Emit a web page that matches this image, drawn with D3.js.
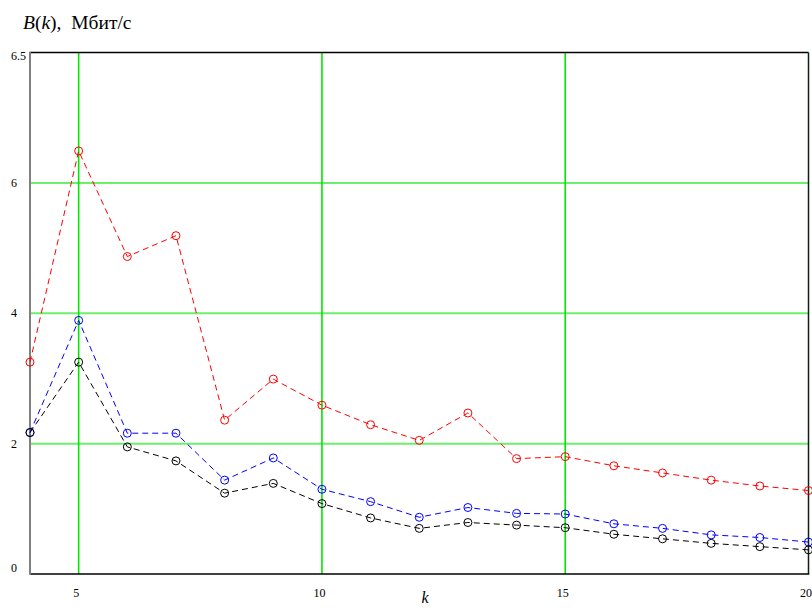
<!DOCTYPE html>
<html>
<head>
<meta charset="utf-8">
<script src="https://cdn.jsdelivr.net/npm/d3@7"></script>
<style>
  html, body { margin: 0; padding: 0; background: #fff; }
  svg { display: block; }
</style>
</head>
<body>
<svg id="chart" width="812" height="608"></svg>
<script>
// ---- data ----
const kValues = [4,5,6,7,8,9,10,11,12,13,14,15,16,17,18,19,20];
const seriesRed   = [3.25,6.49,4.87,5.19,2.36,2.99,2.59,2.29,2.05,2.47,1.77,1.80,1.66,1.55,1.44,1.35,1.28];
const seriesBlue  = [2.17,3.89,2.16,2.16,1.44,1.78,1.30,1.11,0.87,1.02,0.93,0.92,0.77,0.70,0.60,0.56,0.49];
const seriesBlack = [2.17,3.25,1.95,1.735,1.24,1.39,1.08,0.86,0.70,0.79,0.75,0.71,0.61,0.54,0.47,0.42,0.37];
const xTickValues = [5,10,15,20];
const yGridValues = [2,4,6];
const yTickLabels = [{v:0, t:"0"},{v:2, t:"2"},{v:4, t:"4"},{v:6, t:"6"},{v:8, t:"6.5"}];
const xDomain = [4,20];
const yDomain = [0,8];

const FONT = "'Liberation Serif', 'DejaVu Serif', 'Times New Roman', serif";

const svg = d3.select("#chart").attr("font-family", FONT);
const L = 30, R = 808.5, T = 52.5, B = 574;
const x = d3.scaleLinear().domain(xDomain).range([L, R]);
const y = d3.scaleLinear().domain(yDomain).range([B, T]);

// horizontal grid
svg.append("g").selectAll("line").data(yGridValues).join("line")
  .attr("x1", L).attr("x2", R)
  .attr("y1", d => y(d)).attr("y2", d => y(d))
  .attr("stroke", "#6cf06c").attr("stroke-width", 2);
// vertical grid
svg.append("g").selectAll("line").data(xTickValues.filter(d => d < xDomain[1])).join("line")
  .attr("x1", d => x(d)).attr("x2", d => x(d))
  .attr("y1", T).attr("y2", B)
  .attr("stroke", "#00e600").attr("stroke-width", 1.6);

// frame
svg.append("line").attr("x1", L).attr("x2", R).attr("y1", T).attr("y2", T)
  .attr("stroke", "#000").attr("stroke-width", 1.5);
svg.append("line").attr("x1", R).attr("x2", R).attr("y1", T).attr("y2", B)
  .attr("stroke", "#102010").attr("stroke-width", 1.5);
svg.append("line").attr("x1", L).attr("x2", R + 0.75).attr("y1", B).attr("y2", B)
  .attr("stroke", "#000").attr("stroke-width", 1.5);
svg.append("line").attr("x1", L).attr("x2", L).attr("y1", T - 0.75).attr("y2", B + 0.75)
  .attr("stroke", "#808080").attr("stroke-width", 2);

// series
const series = [
  {vals: seriesRed, color: "#ff0000"},
  {vals: seriesBlue, color: "#0000ff"},
  {vals: seriesBlack, color: "#000000"}
];
const line = d3.line().x(d => x(d[0])).y(d => y(d[1]));
series.forEach(s => {
  const pts = kValues.map((k, i) => [k, s.vals[i]]);
  svg.append("path").datum(pts)
    .attr("d", line).attr("fill", "none")
    .attr("stroke", s.color).attr("stroke-width", 1)
    .attr("stroke-dasharray", "6,4");
  svg.append("g").selectAll("circle").data(pts).join("circle")
    .attr("cx", d => x(d[0])).attr("cy", d => y(d[1])).attr("r", 4)
    .attr("fill", "none").attr("stroke", s.color).attr("stroke-width", 1);
});

// y tick labels
svg.append("g").selectAll("text").data(yTickLabels).join("text")
  .attr("x", 11)
  .attr("y", d => d.v === 0 ? y(d.v) - 2 : (d.v === 8 ? y(d.v) + 7 : y(d.v) + 4))
  .attr("font-family", FONT)
  .attr("font-size", 12).attr("fill", "#000")
  .text(d => d.t);

// x tick labels
svg.append("g").selectAll("text").data(xTickValues).join("text")
  .attr("x", d => x(d) - 2.5).attr("y", 597)
  .attr("text-anchor", "middle")
  .attr("font-family", FONT)
  .attr("font-size", 12).attr("fill", "#000")
  .text(d => d);

// axis title x
svg.append("text").attr("x", 425).attr("y", 603)
  .attr("text-anchor", "middle").attr("font-size", 16)
  .attr("font-family", FONT)
  .attr("font-style", "italic").text("k");

// title
const t = svg.append("text").attr("x", 23).attr("y", 29)
  .attr("font-family", FONT).attr("font-size", 19.5);
t.append("tspan").attr("font-style", "italic").text("B");
t.append("tspan").text("(");
t.append("tspan").attr("font-style", "italic").text("k");
t.append("tspan").text("),\u00a0\u00a0Мбит/с");
</script>
</body>
</html>
